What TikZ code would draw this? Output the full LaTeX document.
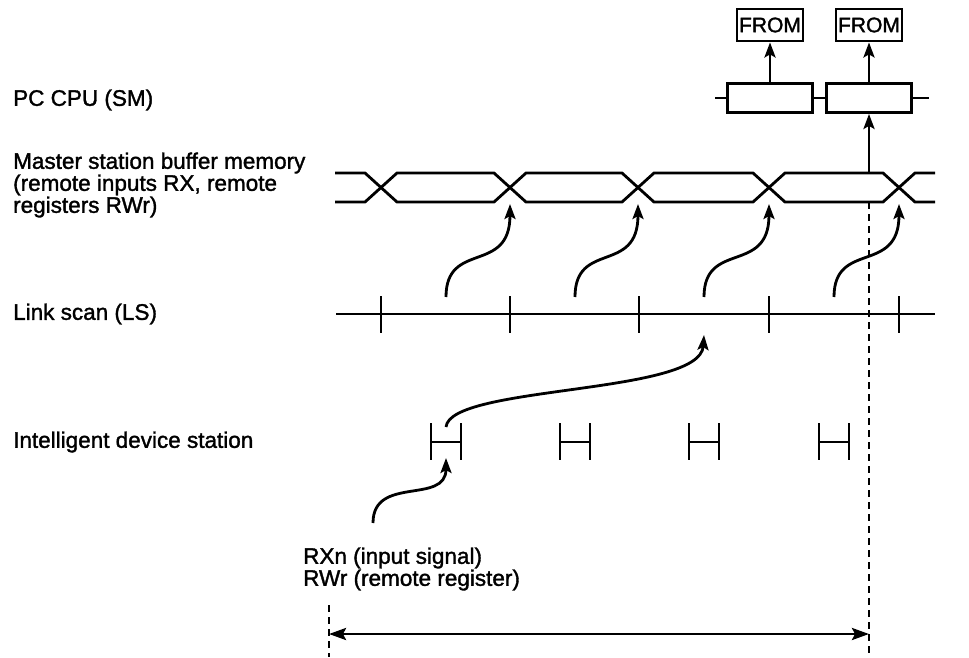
\documentclass[tikz,border=0pt]{standalone}
\usepackage{fontspec}
\setmainfont{Liberation Sans}
\newfontfamily\lblfont{Liberation Sans}[FakeBold=1.5]
\usepackage{tikz}
\usetikzlibrary{arrows.meta, positioning, calc}
\definecolor{mydark}{RGB}{0,0,0}
\tikzset{
  lbl/.style={anchor=west, align=left, inner sep=0pt,
    font=\lblfont\fontsize{22.5}{22}\selectfont},
  cpubox/.style={rectangle, draw=mydark, minimum width=85pt,
    minimum height=29pt, inner sep=0pt, line width=2.8pt},
  frombox/.style={rectangle, draw=mydark, minimum width=66pt,
    minimum height=32pt, inner sep=0pt, line width=2.8pt,
    font=\lblfont\fontsize{21}{21}\selectfont},
  arrow/.style={-{Stealth[length=15pt,width=11pt,inset=3pt]}, line width=2.8pt, color=mydark},
  dblarrow/.style={{Stealth[length=17pt,width=12pt,inset=3pt]}-{Stealth[length=17pt,width=12pt,inset=3pt]},
    line width=2.8pt, color=mydark},
  line/.style={line width=2.8pt, color=mydark},
  vdash/.style={line width=2.6pt, color=mydark, dash pattern=on 7pt off 5pt}
}

\begin{document}
\begin{tikzpicture}[x=1pt, y=-1pt]
  \useasboundingbox (0,0) rectangle (969,657);

  % --- LABELS ---
  \node[lbl] (l_cpu) at (13,100) {PC CPU (SM)};
  \node[lbl] (l_buf) at (13,185) {Master station buffer memory\\(remote inputs RX, remote\\registers RWr)};
  \node[lbl] (l_ls) at (13,314) {Link scan (LS)};
  \node[lbl] (l_ids) at (13,442) {Intelligent device station};
  \node[lbl] (l_rx) at (303,569) {RXn (input signal)\\RWr (remote register)};

  % --- PC CPU ---
  \node[cpubox] (cpu1) at (770,98) {};
  \node[cpubox] (cpu2) at (869,98) {};
  \node[frombox] (from1) at (770,25) {FROM};
  \node[frombox] (from2) at (869,25) {FROM};
  \coordinate (cpu_in) at (715,98);
  \coordinate (cpu_out) at (929,98);
  \draw[line] (cpu_in) -- (cpu1.west);
  \draw[line] (cpu1.east) -- (cpu2.west);
  \draw[line] (cpu2.east) -- (cpu_out);
  \draw[arrow] (cpu1.north) -- (from1.south);
  \draw[arrow] (cpu2.north) -- (from2.south);

  % --- BUFFER MEMORY ---
  \draw[line] (335,173) -- (365,173) -- (397,202) -- (494,202) -- (526,173) -- (622,173)
    -- (654,202) -- (753,202) -- (785,173) -- (883,173) -- (915,202) -- (935,202);
  \draw[line] (335,202) -- (365,202) -- (397,173) -- (494,173) -- (526,202) -- (622,202)
    -- (654,173) -- (753,173) -- (785,202) -- (883,202) -- (915,173) -- (935,173);
  \coordinate (buf_top) at (869,173);
  \coordinate (buf_bot) at (869,202);
  \draw[arrow] (buf_top) -- (cpu2.south);

  % --- LINK SCAN ---
  \draw[line] (336,314) -- (935,314);
  \draw[line] (381,296) -- (381,333);
  \draw[line] (510,296) -- (510,333);
  \draw[line] (639,296) -- (639,333);
  \draw[line] (769,296) -- (769,333);
  \draw[line] (899,296) -- (899,333);

  % transfers link scan -> buffer
  \coordinate (ls1) at (446,297);
  \coordinate (ls2) at (575,297);
  \coordinate (ls3) at (704,297);
  \coordinate (ls4) at (834,297);
  \coordinate (x2) at (510,204);
  \coordinate (x3) at (638,204);
  \coordinate (x4) at (769,204);
  \coordinate (x5) at (899,204);
  \draw[arrow] (ls1) .. controls (446,240) and (510,275) .. (x2);
  \draw[arrow] (ls2) .. controls (575,240) and (638,275) .. (x3);
  \draw[arrow] (ls3) .. controls (704,240) and (769,275) .. (x4);
  \draw[arrow] (ls4) .. controls (834,240) and (899,275) .. (x5);

  % --- INTELLIGENT DEVICE STATION ---
  \draw[line] (431,423) -- (431,460) (431,442) -- (461,442) (461,423) -- (461,460);
  \draw[line] (560,423) -- (560,460) (560,442) -- (590,442) (590,423) -- (590,460);
  \draw[line] (689,423) -- (689,460) (689,442) -- (719,442) (719,423) -- (719,460);
  \draw[line] (819,423) -- (819,460) (819,442) -- (849,442) (849,423) -- (849,460);

  \coordinate (ids_out) at (446,427);
  \coordinate (ls_in) at (704,335);
  \draw[arrow] (ids_out) .. controls (450,385) and (700,395) .. (ls_in);

  \coordinate (rx_src) at (373,523);
  \coordinate (ids_in) at (446,458);
  \draw[arrow] (rx_src) .. controls (373,475) and (446,505) .. (ids_in);

  % --- TIMING SPAN ---
  \coordinate (span_top) at (329,605);
  \coordinate (span_l) at (329,634);
  \coordinate (span_r) at (869,634);
  \draw[vdash] (buf_bot) -- (869,657);
  \draw[vdash] (span_top) -- (329,657);
  \draw[dblarrow] (span_l) -- (span_r);
\end{tikzpicture}
\end{document}
